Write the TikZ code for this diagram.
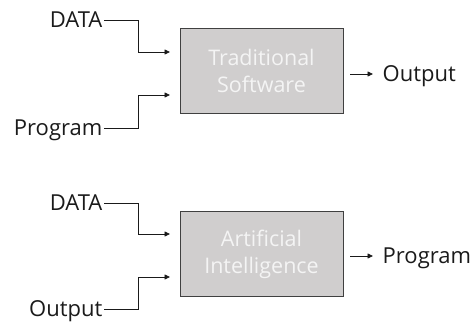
\documentclass[tikz,border=0pt]{standalone}
\usepackage{fontspec}
\setmainfont{Open Sans}
\usetikzlibrary{arrows.meta}
\definecolor{boxgray}{HTML}{D0CECE}
\definecolor{boxtext}{HTML}{F4F4F4}
\definecolor{ink}{HTML}{1A1A1A}
\begin{document}
\begin{tikzpicture}[x=1pt,y=-1pt,
  lbl/.style={font=\fontsize{22}{27}\selectfont, text=ink, inner sep=1.5pt, text height=15pt, text depth=0pt},
  proc/.style={draw=black!75, line width=0.8pt, fill=boxgray, minimum width=163pt, minimum height=85pt,
    font=\fontsize{21.5}{27}\selectfont, text=boxtext, align=center, inner sep=0pt},
  flow/.style={line width=0.8pt, draw=ink, -{Triangle[length=5.5pt,width=5pt]}}]
\useasboundingbox (0,0) rectangle (475,324);

% top block
\node[proc] (tsw) at (261.5,70.5) {Traditional\\Software};
\node[lbl,anchor=east] (d1) at (104,20) {DATA};
\node[lbl,anchor=east] (p1) at (104,128) {Program};
\coordinate (c1) at (170,52);
\coordinate (c2) at (170,95);
\draw[flow] (d1.east) -- ++(34,0) |- (c1);
\draw[flow] (p1.east) -- ++(34,0) |- (c2);
\node[lbl,anchor=west] (o1) at (381,74) {Output};
\draw[flow] ([xshift=7pt]tsw.east |- o1.west) -- ([xshift=-8pt]o1.west);

% bottom block
\node[proc] (ai) at (261.5,254) {Artificial\\Intelligence};
\node[lbl,anchor=east] (d2) at (104,203) {DATA};
\node[lbl,anchor=east] (o2) at (104,309) {Output};
\coordinate (c3) at (170,234);
\coordinate (c4) at (170,277);
\draw[flow] (d2.east) -- ++(34,0) |- (c3);
\draw[flow] (o2.east) -- ++(34,0) |- (c4);
\node[lbl,anchor=west] (p2) at (381,256) {Program};
\draw[flow] ([xshift=7pt]ai.east |- p2.west) -- ([xshift=-8pt]p2.west);
\end{tikzpicture}
\end{document}
